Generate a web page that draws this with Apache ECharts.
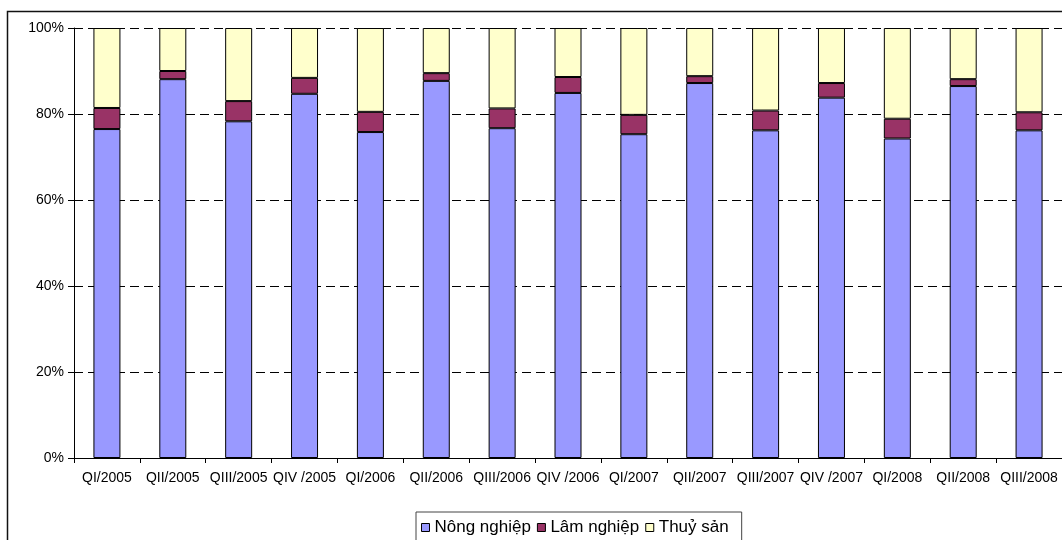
<!DOCTYPE html>
<html>
<head>
<meta charset="utf-8">
<script src="https://cdn.jsdelivr.net/npm/echarts@6/dist/echarts.min.js"></script>
<style>
  html, body { margin: 0; padding: 0; background: #fff; }
  #chart { width: 1062px; height: 540px; }
</style>
</head>
<body>
<div id="chart"></div>
<script>
// Quarterly structure of agriculture, forestry and fishery output (% share)
const quarters = ['QI/2005', 'QII/2005', 'QIII/2005', 'QIV /2005',
                  'QI/2006', 'QII/2006', 'QIII/2006', 'QIV /2006',
                  'QI/2007', 'QII/2007', 'QIII/2007', 'QIV /2007',
                  'QI/2008', 'QII/2008', 'QIII/2008'];
const nongNghiep = [76.5, 88.1, 78.3, 84.7, 75.8, 87.7, 76.7, 84.9, 75.3, 87.2, 76.2, 83.8, 74.3, 86.5, 76.2];
const lamNghiep  = [4.9, 1.9, 4.7, 3.7, 4.7, 1.8, 4.6, 3.7, 4.5, 1.6, 4.6, 3.4, 4.6, 1.6, 4.2];
const thuySan    = [18.6, 10.0, 17.0, 11.6, 19.5, 10.5, 18.7, 11.4, 20.2, 11.2, 19.2, 12.8, 21.1, 11.9, 19.6];
const seriesNames = ['Nông nghiệp', 'Lâm nghiệp', 'Thuỷ sản'];
const yTicks = [0, 20, 40, 60, 80, 100];

const FONT = '"Liberation Sans", Arial, sans-serif';
const colors = ['#9999FF', '#993366', '#FFFFCC'];

function barSeries(name, data, color) {
  return {
    name: name,
    type: 'bar',
    stack: 'total',
    data: data,
    barWidth: 27,
    itemStyle: { color: color, borderColor: '#000', borderWidth: 1 },
    emphasis: { disabled: true }
  };
}

const chart = echarts.init(document.getElementById('chart'), null, { renderer: 'canvas' });
chart.setOption({
  animation: false,
  backgroundColor: '#fff',
  textStyle: { fontFamily: FONT },
  graphic: [{
    type: 'rect',
    shape: { x: 7.5, y: 11.5, width: 1100, height: 600 },
    style: { fill: 'none', stroke: '#111', lineWidth: 1.5 },
    z: -1
  }],
  grid: { left: 74, top: 28, width: 990, height: 430, containLabel: false },
  legend: {
    data: seriesNames,
    left: 416,
    top: 512,
    padding: [7, 13, 20, 5],
    itemGap: 6,
    itemWidth: 8,
    itemHeight: 8,
    icon: 'rect',
    itemStyle: { borderColor: '#000', borderWidth: 1 },
    borderColor: '#444',
    borderWidth: 1,
    textStyle: { fontFamily: FONT, fontSize: 17, color: '#000' }
  },
  xAxis: {
    type: 'category',
    data: quarters,
    axisLine: { lineStyle: { color: '#000', width: 1 } },
    axisTick: { show: true, length: 5, inside: false, lineStyle: { color: '#000' } },
    axisLabel: { color: '#000', fontSize: 14, fontFamily: FONT, margin: 13, interval: 0 }
  },
  yAxis: {
    type: 'value',
    min: yTicks[0],
    max: yTicks[yTicks.length - 1],
    interval: 20,
    axisLine: { show: true, lineStyle: { color: '#000', width: 1 } },
    axisTick: { show: true, length: 6, lineStyle: { color: '#000' } },
    axisLabel: { color: '#000', fontSize: 14, fontFamily: FONT, margin: 10,
                 formatter: v => v + '%' },
    splitLine: { show: true, lineStyle: { color: '#000', type: [9, 5], width: 1 } }
  },
  series: [
    barSeries(seriesNames[0], nongNghiep, colors[0]),
    barSeries(seriesNames[1], lamNghiep, colors[1]),
    barSeries(seriesNames[2], thuySan, colors[2])
  ]
});
</script>
</body>
</html>
